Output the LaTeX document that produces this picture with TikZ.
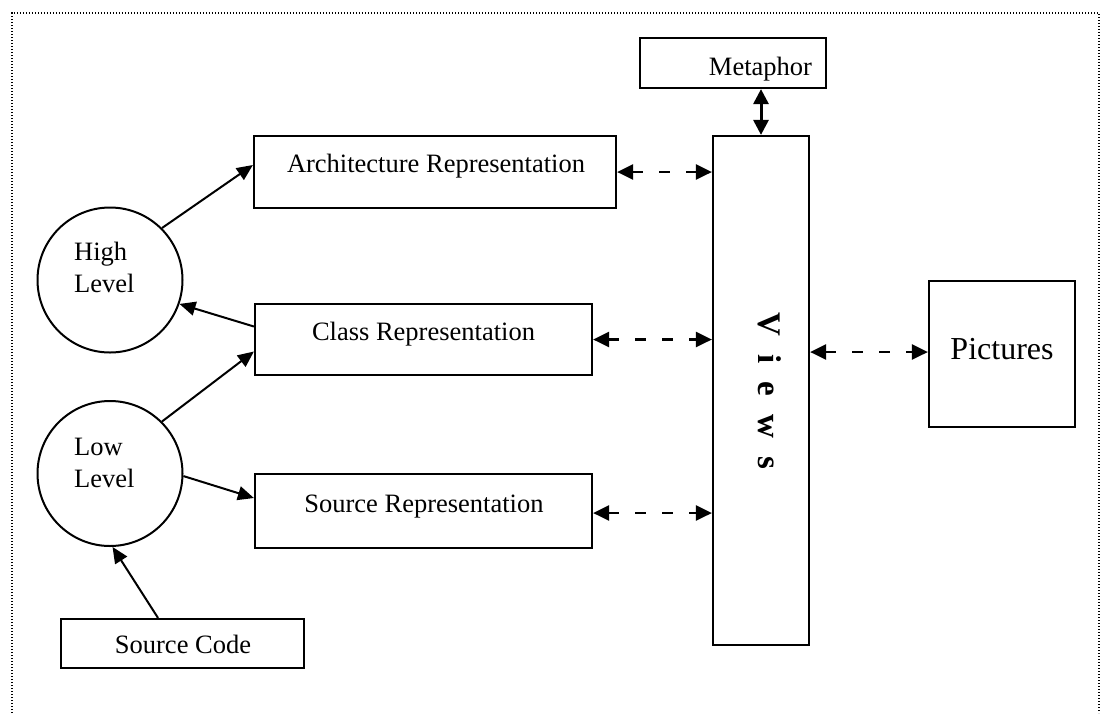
\documentclass[tikz,border=0pt]{standalone}
\usepackage{fontspec}
\setmainfont{Liberation Serif}
\usetikzlibrary{arrows.meta,calc}
\begin{document}
\begin{tikzpicture}[x=1pt,y=-1pt,
  box/.style={draw, line width=2.2pt, rectangle, inner sep=0pt},
  lvl/.style={draw, line width=2pt, circle, minimum size=145pt, inner sep=0pt},
  txt/.style={font=\fontsize{26.5}{32}\selectfont, inner sep=0pt, anchor=base},
  link/.style={line width=2pt, -{Triangle[length=16pt,width=14pt]}},
  dlink/.style={line width=2.6pt, dash pattern=on 11pt off 16pt, {Triangle[length=16pt,width=15pt]}-{Triangle[length=16pt,width=15pt]}},
  ]
\useasboundingbox (0,0) rectangle (1101,713);
\draw[line width=1.2pt, dash pattern=on 1.4pt off 1.6pt] (12,713) -- (12,13) -- (1099,13) -- (1099,713);

\node[box, minimum width=186pt, minimum height=50pt] (meta) at (733,63) {};
\node[box, minimum width=96pt, minimum height=509pt] (views) at (761,390.5) {};
\node[box, minimum width=362pt, minimum height=72pt] (arch) at (435,172) {};
\node[box, minimum width=337pt, minimum height=71pt] (cls) at (423.5,339.5) {};
\node[box, minimum width=337pt, minimum height=74pt] (src) at (423.5,511) {};
\node[box, minimum width=243pt, minimum height=49pt] (sc) at (182.5,643.5) {};
\node[box, minimum width=146pt, minimum height=146pt] (pic) at (1002,354) {};
\node[lvl] (hi) at (110,280) {};
\node[lvl] (lo) at (110,473.5) {};

\node[txt] (metat) at (760.5,75) {Metaphor};
\node[txt] (archt) at (436,172) {Architecture Representation};
\node[txt] (clst) at (423.5,340) {Class Representation};
\node[txt] (srct) at (424,512) {Source Representation};
\node[txt] (sct) at (183,653) {Source Code};
\node[txt, font=\fontsize{32}{38}\selectfont] (pict) at (1002,359) {Pictures};
\node[txt, anchor=base west] (hit1) at (74,260) {High};
\node[txt, anchor=base west] (hit2) at (74,292) {Level};
\node[txt, anchor=base west] (lot1) at (74,455) {Low};
\node[txt, anchor=base west] (lot2) at (74,487) {Level};
\node[rotate=-90, anchor=base west, inner sep=0pt, font=\bfseries\fontsize{33}{40}\selectfont] (viewst) at (758,312) {V\hspace{0.55em}i\hspace{0.55em}e\hspace{0.55em}w\hspace{0.55em}s};

\draw[link] (hi.45) -- ([yshift=7pt]arch.west);
\draw[link] ([yshift=13pt]cls.west) -- (hi.-19);
\draw[link] (lo.45) -- ([yshift=-12pt]cls.west);
\draw[link] (lo.-2) -- ([yshift=13pt]src.west);
\draw[link] ([xshift=-24.5pt]sc.north) -- (lo.-88);

\draw[dlink] (arch.east) -- (arch.east -| views.west);
\draw[dlink] (cls.east) -- (cls.east -| views.west);
\draw[dlink] ([yshift=-2pt]src.east) -- ([yshift=-2pt]src.east -| views.west);
\draw[dlink] ([yshift=2pt]views.east |- pic.west) -- ([yshift=2pt]pic.west);
\draw[line width=3pt, {Triangle[length=15pt,width=15pt]}-{Triangle[length=15pt,width=15pt]}] (meta.south -| views.north) -- (views.north);
\end{tikzpicture}
\end{document}
